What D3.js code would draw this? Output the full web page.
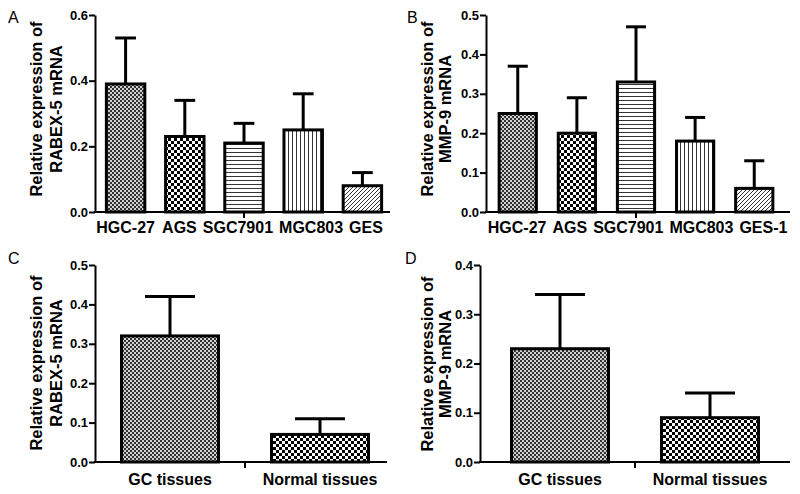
<!DOCTYPE html>
<html>
<head>
<meta charset="utf-8">
<script src="https://cdn.jsdelivr.net/npm/d3@7"></script>
<style>
  html, body { margin: 0; padding: 0; background: #fff; }
  svg { display: block; }
  text { font-family: "Liberation Sans", Arial, sans-serif; }
</style>
</head>
<body>
<svg id="chart" width="800" height="494"></svg>
<script>
// ---------------- data ----------------
const categoriesA = ["HGC-27", "AGS", "SGC7901", "MGC803", "GES"];
const valuesA = [0.39, 0.23, 0.21, 0.25, 0.08];
const errorsA = [0.14, 0.11, 0.06, 0.11, 0.04];
const ticksA = [0, 0.2, 0.4, 0.6];

const categoriesB = ["HGC-27", "AGS", "SGC7901", "MGC803", "GES-1"];
const valuesB = [0.25, 0.20, 0.33, 0.18, 0.06];
const errorsB = [0.12, 0.09, 0.14, 0.06, 0.07];
const ticksB = [0, 0.1, 0.2, 0.3, 0.4, 0.5];

const categoriesC = ["GC tissues", "Normal tissues"];
const valuesC = [0.32, 0.07];
const errorsC = [0.10, 0.04];
const ticksC = [0, 0.1, 0.2, 0.3, 0.4, 0.5];

const categoriesD = ["GC tissues", "Normal tissues"];
const valuesD = [0.23, 0.09];
const errorsD = [0.11, 0.05];
const ticksD = [0, 0.1, 0.2, 0.3, 0.4];

const titleA = ["Relative expression of", "RABEX-5 mRNA"];
const titleB = ["Relative expression of", "MMP-9 mRNA"];
const titleC = ["Relative expression of", "RABEX-5 mRNA"];
const titleD = ["Relative expression of", "MMP-9 mRNA"];

// ---------------- patterns ----------------
const svg = d3.select("#chart");
const defs = svg.append("defs");

function addPattern(id, w, h, draw) {
  const p = defs.append("pattern").attr("id", id)
    .attr("patternUnits", "userSpaceOnUse").attr("width", w).attr("height", h);
  p.append("rect").attr("width", w).attr("height", h).attr("fill", "#fff");
  draw(p);
}
addPattern("fineCheck", 4, 4, p => {
  p.append("rect").attr("x", 0).attr("y", 0).attr("width", 2).attr("height", 2).attr("fill", "#333");
  p.append("rect").attr("x", 2).attr("y", 2).attr("width", 2).attr("height", 2).attr("fill", "#333");
  p.append("rect").attr("x", 2).attr("y", 0).attr("width", 2).attr("height", 2).attr("fill", "#d0d0d0");
  p.append("rect").attr("x", 0).attr("y", 2).attr("width", 2).attr("height", 2).attr("fill", "#d0d0d0");
});
addPattern("coarseCheck", 6, 6, p => {
  p.append("rect").attr("x", 0).attr("y", 0).attr("width", 3).attr("height", 3).attr("fill", "#000");
  p.append("rect").attr("x", 3).attr("y", 3).attr("width", 3).attr("height", 3).attr("fill", "#000");
});
addPattern("hLines", 4, 4, p => {
  p.append("line").attr("x1", 0).attr("x2", 4).attr("y1", 0.5).attr("y2", 0.5)
    .attr("stroke", "#333").attr("stroke-width", 1);
});
addPattern("vLines", 4, 4, p => {
  p.append("line").attr("y1", 0).attr("y2", 4).attr("x1", 0.5).attr("x2", 0.5)
    .attr("stroke", "#333").attr("stroke-width", 1);
});
addPattern("diag", 4, 4, p => {
  p.append("path").attr("d", "M0,4 L4,0 M-1,1 L1,-1 M3,5 L5,3")
    .attr("stroke", "#333").attr("stroke-width", 1);
});

const fillsTop = ["fineCheck", "coarseCheck", "hLines", "vLines", "diag"];
const fillsBottom = ["fineCheck", "coarseCheck"];

// ---------------- panels ----------------
const panels = [
  { letter: "A", lx: 8, ly: 23, cats: categoriesA, vals: valuesA, errs: errorsA, ticks: ticksA,
    yMax: 0.6, top: 15, bottom: 212, left: 95, axisRight: 390, band: [96, 392],
    pin: 0.3, pout: 0.15, title: titleA, t1: 42, t2: 62, tcy: 109, fills: fillsTop, labelY: 233 },
  { letter: "B", lx: 407, ly: 23, cats: categoriesB, vals: valuesB, errs: errorsB, ticks: ticksB,
    yMax: 0.5, top: 15, bottom: 212, left: 486, axisRight: 790, band: [487, 785],
    pin: 0.32, pout: 0.18, title: titleB, t1: 433, t2: 451, tcy: 109, fills: fillsTop, labelY: 233 },
  { letter: "C", lx: 8, ly: 264, cats: categoriesC, vals: valuesC, errs: errorsC, ticks: ticksC,
    yMax: 0.5, top: 265, bottom: 462, left: 95, axisRight: 387, band: [95, 395],
    pin: 1/3, pout: 1/6, title: titleC, t1: 42, t2: 62, tcy: 363, fills: fillsBottom, labelY: 485 },
  { letter: "D", lx: 405, ly: 264, cats: categoriesD, vals: valuesD, errs: errorsD, ticks: ticksD,
    yMax: 0.4, top: 265, bottom: 462, left: 480, axisRight: 790, band: [485, 785],
    pin: 1/3, pout: 1/6, title: titleD, t1: 433, t2: 451, tcy: 364, fills: fillsBottom, labelY: 485 }
];

panels.forEach(p => {
  const g = svg.append("g");
  const x = d3.scaleBand().domain(p.cats).range(p.band).paddingInner(p.pin).paddingOuter(p.pout);
  const y = d3.scaleLinear().domain([0, p.yMax]).range([p.bottom, p.top]);
  const data = p.cats.map((c, i) => ({ c, v: p.vals[i], e: p.errs[i], f: p.fills[i] }));
  const bw = x.bandwidth();
  const cap = bw * 0.5;

  // error bars
  const eb = g.append("g").attr("stroke", "#000").attr("stroke-width", 3);
  data.forEach(d => {
    const cx = x(d.c) + bw / 2;
    eb.append("line").attr("x1", cx).attr("x2", cx).attr("y1", y(d.v)).attr("y2", y(d.v + d.e));
    eb.append("line").attr("x1", cx - cap / 2).attr("x2", cx + cap / 2)
      .attr("y1", y(d.v + d.e)).attr("y2", y(d.v + d.e));
  });

  // bars
  g.selectAll("rect.bar").data(data).enter().append("rect").attr("class", "bar")
    .attr("x", d => x(d.c) + 1.5)
    .attr("width", bw - 3)
    .attr("y", d => y(d.v))
    .attr("height", d => p.bottom - y(d.v))
    .attr("fill", d => "url(#" + d.f + ")")
    .attr("stroke", "#000").attr("stroke-width", 3);

  // y axis
  const ya = g.append("g").attr("transform", `translate(${p.left},0)`)
    .call(d3.axisLeft(y).tickValues(p.ticks).tickFormat(d3.format(".1f")).tickSize(6).tickSizeOuter(0).tickPadding(1));
  ya.select(".domain").attr("stroke-width", 2);
  ya.selectAll(".tick line").attr("stroke-width", 2);
  ya.selectAll(".tick text").attr("font-size", 13).attr("font-weight", "bold")
    .attr("font-family", "'Liberation Sans', Arial, sans-serif").attr("fill", "#000");

  // x axis line with centre tick
  g.append("line").attr("x1", p.left - 1).attr("x2", p.axisRight)
    .attr("y1", p.bottom).attr("y2", p.bottom).attr("stroke", "#000").attr("stroke-width", 2);
  const mid = (p.band[0] + p.band[1]) / 2;
  g.append("line").attr("x1", mid).attr("x2", mid).attr("y1", p.bottom).attr("y2", p.bottom + 6)
    .attr("stroke", "#000").attr("stroke-width", 2);

  // x labels (centred on bars, then pushed apart where they would collide)
  const labels = g.selectAll("text.xl").data(data).enter().append("text").attr("class", "xl")
    .attr("y", p.labelY)
    .attr("text-anchor", "middle").attr("font-size", 16).attr("font-weight", "bold")
    .text(d => d.c);
  const items = [];
  labels.each(function (d) {
    items.push({ node: this, cx: x(d.c) + bw / 2, w: this.getComputedTextLength() });
  });
  const gap = 6;
  for (let it = 0; it < 50; it++) {
    let moved = false;
    for (let i = 0; i < items.length - 1; i++) {
      const a = items[i], b = items[i + 1];
      const ov = (a.cx + a.w / 2 + gap) - (b.cx - b.w / 2);
      if (ov > 0.01) { a.cx -= ov / 2; b.cx += ov / 2; moved = true; }
    }
    if (!moved) break;
  }
  items.forEach(it => d3.select(it.node).attr("x", it.cx));

  // y title
  [p.t1, p.t2].forEach((tx, i) => {
    g.append("text").attr("transform", `translate(${tx},${p.tcy}) rotate(-90)`)
      .attr("text-anchor", "middle").attr("font-size", 16.5).attr("font-weight", "bold")
      .text(p.title[i]);
  });

  // panel letter
  g.append("text").attr("x", p.lx).attr("y", p.ly).attr("font-size", 16).text(p.letter);
});
</script>
</body>
</html>
